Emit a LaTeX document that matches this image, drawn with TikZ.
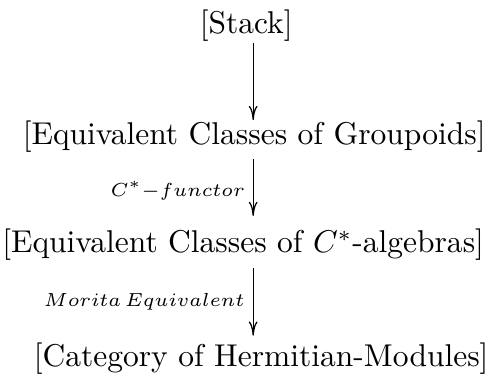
\documentclass[tikz,border=0pt]{standalone}
\usetikzlibrary{positioning,arrows.meta}
\begin{document}
\begin{tikzpicture}[
    level/.style={inner sep=0pt, anchor=base},
    map/.style={-{To[length=4.5pt,width=2.8pt]}, shorten <=2pt, shorten >=2pt},
    maplabel/.style={left, inner sep=2.5pt, font=\footnotesize}
  ]
  \useasboundingbox (0,0) rectangle (5.41,4.17);

  % Levels
  \node[level] (stack) at (2.746,3.80) {[Stack]};
  \node[level] (groupoids) at (2.835,2.56) {[Equivalent Classes of Groupoids]};
  \node[level] (algebras) at (2.712,1.35) {[Equivalent Classes of $C^*$-algebras]};
  \node[level] (modules) at (2.913,0.085) {[Category of Hermitian-Modules]};

  % Column of the arrows
  \coordinate (col) at (2.824,0);

  % Maps
  \draw[map, shorten <=0.5pt, shorten >=0pt] (stack.south -| col) -- (groupoids.north -| col);
  \draw[map, shorten >=4pt] (groupoids.south -| col) -- node[maplabel] {$\scriptstyle C^*-functor$} (algebras.north -| col);
  \draw[map] (algebras.south -| col) -- node[maplabel] {$\scriptstyle Morita\,Equivalent$} (modules.north -| col);

\end{tikzpicture}
\end{document}
